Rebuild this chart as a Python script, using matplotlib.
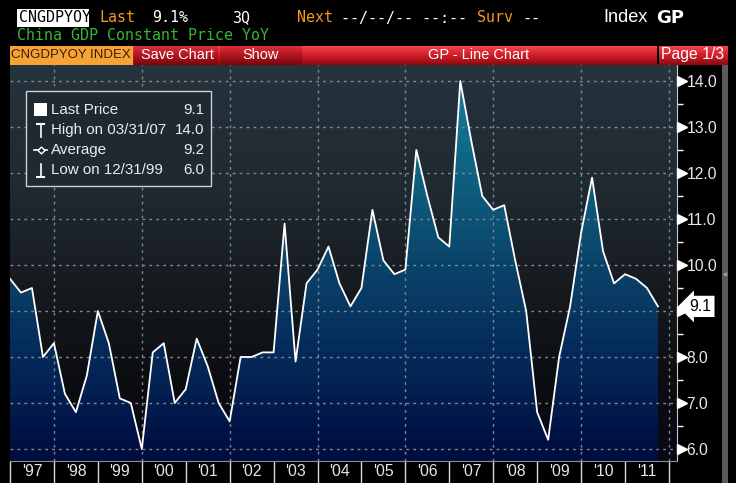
import numpy as np
import pandas as pd
import matplotlib
matplotlib.use('Agg')
import matplotlib.pyplot as plt
import matplotlib.transforms as mtrans
from matplotlib import font_manager
from matplotlib.patches import Rectangle

# China GDP constant price YoY (%), quarterly 4Q96 .. 3Q11
quarters = pd.period_range('1996Q4', '2011Q3', freq='Q')
gdp_yoy = [9.7,
           9.4, 9.5, 8.0, 8.3,
           7.2, 6.8, 7.6, 9.0,
           8.3, 7.1, 7.0, 6.0,
           8.1, 8.3, 7.0, 7.3,
           8.4, 7.8, 7.0, 6.6,
           8.0, 8.0, 8.1, 8.1,
           10.9, 7.9, 9.6, 9.9,
           10.4, 9.6, 9.1, 9.5,
           11.2, 10.1, 9.8, 9.9,
           12.5, 11.5, 10.6, 10.4,
           14.0, 12.7, 11.5, 11.2,
           11.3, 10.1, 9.0, 6.8,
           6.2, 8.0, 9.1, 10.7,
           11.9, 10.3, 9.6, 9.8,
           9.7, 9.5, 9.1]
year_ticks = list(range(1997, 2013))
year_labels = ["'97", "'98", "'99", "'00", "'01", "'02", "'03", "'04",
               "'05", "'06", "'07", "'08", "'09", "'10", "'11"]
grid_years = [1998, 2000, 2002, 2004, 2006, 2008, 2010, 2012]
y_ticks = [6.0, 7.0, 8.0, 9.0, 10.0, 11.0, 12.0, 13.0, 14.0]
y_minor = [6.5, 7.5, 8.5, 9.5, 10.5, 11.5, 12.5, 13.5]

x = np.array([q.year + q.quarter / 4.0 for q in quarters])
vals = np.array(gdp_yoy)
last = vals[-1]
i_hi = int(np.argmax(vals))
i_lo = int(np.argmin(vals))
hi_date = quarters[i_hi].end_time.strftime('%m/%d/%y')
lo_date = quarters[i_lo].end_time.strftime('%m/%d/%y')

names = {f.name for f in font_manager.fontManager.ttflist}
if 'Liberation Sans Narrow' in names:
    NARROW, K = 'Liberation Sans Narrow', 1.0
else:
    NARROW, K = 'Liberation Sans', 0.87
MONO = 'DejaVu Sans Mono'
plt.rcParams['font.family'] = [NARROW, 'DejaVu Sans']

W, H = 736, 483
fig = plt.figure(figsize=(W / 100, H / 100), dpi=100, facecolor='black')

# plot area in pixels: x 10..677, y 64..461
px0, px1, py0, py1 = 10, 677, 64, 461
ax = fig.add_axes([px0 / W, 1 - py1 / H, (px1 - px0) / W, (py1 - py0) / H])
ax.set_facecolor('black')
xlim = (1997.0, 1997.0 + (px1 - px0) / 43.93)
ylim = (6.0 - (py1 - 449) / 46.0, 14.0 + (81 - py0) / 46.0)


def bands(stops, n=36):
    t = (np.arange(n) + 0.5) / n
    pos = [s[0] for s in stops]
    cols = np.array([s[1] for s in stops]) / 255.0
    arr = np.stack([np.interp(t, pos, cols[:, c]) for c in range(3)], axis=-1)
    return arr[:, None, :]


bg = bands([(0.0, (38, 52, 62)), (0.35, (31, 40, 47)), (0.6, (20, 24, 28)),
            (0.8, (12, 13, 17)), (1.0, (8, 8, 20))])
fill = bands([(0.0, (26, 130, 160)), (0.25, (16, 100, 132)), (0.5, (10, 68, 106)),
              (0.75, (4, 40, 88)), (1.0, (0, 12, 62))])
ext = [xlim[0], xlim[1], ylim[0], ylim[1]]
ax.imshow(bg, extent=ext, aspect='auto', interpolation='nearest', zorder=0)
poly = ax.fill_between(x, vals, ylim[0], facecolor='none', edgecolor='none')
im = ax.imshow(fill, extent=ext, aspect='auto', interpolation='nearest', zorder=2)
im.set_clip_path(poly.get_paths()[0], transform=ax.transData)

for v in y_ticks:
    ax.axhline(v, color='#7d8893', lw=1, ls=(0, (2, 3)), zorder=3)
for g in grid_years:
    ax.axvline(g, color='#7d8893', lw=1, ls=(0, (2, 3)), zorder=3)

ax.plot(x, vals, color='white', lw=1.3, zorder=4)
ax.set_xlim(*xlim)
ax.set_ylim(*ylim)

for s in ['top', 'left']:
    ax.spines[s].set_visible(False)
ax.spines['right'].set_color('#c8c8c8')
ax.spines['bottom'].set_color('#909090')

ax.set_xticks(year_ticks)
ax.set_xticklabels([])
ax.tick_params(axis='x', which='major', length=16, width=1, color='#d8d8d8')
ax.set_xticks([y + 0.5 for y in year_ticks[:-1]], minor=True)
ax.set_xticklabels(year_labels, minor=True)
ax.tick_params(axis='x', which='minor', length=0, pad=2, labelsize=13 * K,
               labelcolor='#e6e6e6')

ax.yaxis.tick_right()
ax.set_yticks(y_ticks)
ax.set_yticklabels(['%.1f' % v for v in y_ticks])
ax.set_yticks(y_minor, minor=True)
ax.tick_params(axis='y', which='major', length=0, pad=7, labelsize=13 * K,
               labelcolor='#e6e6e6')
ax.tick_params(axis='y', which='minor', length=4, width=1, color='white')
tri = mtrans.offset_copy(mtrans.blended_transform_factory(ax.transAxes, ax.transData),
                         fig=fig, x=5, y=0, units='dots')
ax.plot([1] * len(y_ticks), y_ticks, ls='none', marker='>', ms=7.5, color='white',
        transform=tri, clip_on=False, zorder=5)

# last value tag, it sits over the 9.0 label as on the terminal
ax.annotate('%.1f' % last, xy=(1, last), xycoords=('axes fraction', 'data'),
            xytext=(9, 0), textcoords='offset points', ha='left', va='center',
            fontsize=13 * K, color='black', zorder=10, annotation_clip=False,
            bbox=dict(boxstyle='larrow,pad=0.2', fc='white', ec='none'))

# overlay in pixel coordinates for header, legend and frame bits
ov = fig.add_axes([0, 0, 1, 1], zorder=5)
ov.set_facecolor('none')
ov.axis('off')

white, orange, green = '#ffffff', '#f39a1e', '#33b833'
ov.add_patch(Rectangle((17, 9), 72, 18, fc='white', ec='none'))
ov.text(19, 18, 'CNGDPYOY', family=MONO, fontsize=10.8, color='black', va='center')
ov.text(99, 18, 'Last', family=MONO, fontsize=10.8, color=orange, va='center')
ov.text(152, 18, '%.1f%%' % last, family=MONO, fontsize=10.8, color=white, va='center')
ov.text(233, 18, '%dQ' % quarters[-1].quarter, family=MONO, fontsize=10.8,
        color=white, va='center')
ov.text(297, 18, 'Next', family=MONO, fontsize=10.8, color=orange, va='center')
ov.text(341, 18, '--/--/-- --:--', family=MONO, fontsize=10.8, color=white, va='center')
ov.text(477, 18, 'Surv', family=MONO, fontsize=10.8, color=orange, va='center')
ov.text(522, 18, '--', family=MONO, fontsize=10.8, color=white, va='center')
ov.text(603, 18, 'Index', fontsize=15 * K, color=white, va='center')
ov.text(656, 18, 'GP', family='DejaVu Sans', fontweight='bold', fontsize=13,
        color=white, va='center')
ov.text(17, 36, 'China GDP Constant Price YoY', family=MONO, fontsize=10.8,
        color=green, va='center')

red = bands([(0.0, (240, 70, 80)), (0.4, (215, 35, 45)), (1.0, (140, 8, 16))], n=19)
dred = bands([(0.0, (215, 50, 60)), (0.4, (185, 25, 35)), (1.0, (120, 5, 12))], n=19)
ov.imshow(red, extent=[133, 657, 65, 46], aspect='auto', interpolation='bilinear')
ov.imshow(dred, extent=[134, 218, 65, 46], aspect='auto', interpolation='bilinear')
ov.imshow(dred, extent=[220, 302, 65, 46], aspect='auto', interpolation='bilinear')
ov.imshow(red, extent=[659, 728, 65, 46], aspect='auto', interpolation='bilinear')
ov.add_patch(Rectangle((10, 46), 123, 19, fc='#f7a236', ec='none'))
ov.text(71, 55.5, 'CNGDPYOY INDEX', fontsize=11 * K, color='#3a1e00', ha='center', va='center')
ov.text(177, 55, 'Save Chart', fontsize=12 * K, color=white, ha='center', va='center')
ov.text(261, 55, 'Show', fontsize=12 * K, color=white, ha='center', va='center')
ov.text(479, 55, 'GP - Line Chart', fontsize=12 * K, color=white, ha='center', va='center')
ov.text(693, 55, 'Page 1/3', fontsize=13 * K, color=white, ha='center', va='center')

# scroll strip at the right
ov.add_patch(Rectangle((722, 65), 6, 418, fc='#5a5a5a', ec='none'))
ov.text(725, 275, '\u00ab', family='DejaVu Sans', fontsize=6, color='#dddddd',
        ha='center', va='center')

# legend box
ov.add_patch(Rectangle((26, 91), 185, 95, fc='#1e2931', ec='#cfcfcf', lw=1, zorder=6))
rows = [('Last Price', '%.1f' % last),
        ('High on %s' % hi_date, '%.1f' % vals[i_hi]),
        ('Average', '%.1f' % vals.mean()),
        ('Low on %s' % lo_date, '%.1f' % vals[i_lo])]
for k, (lab, val) in enumerate(rows):
    yy = 110 + k * 20
    ov.text(51, yy, lab, fontsize=12.5 * K, color='#ececec', va='center', zorder=7)
    ov.text(204, yy, val, fontsize=12.5 * K, color='#ececec', va='center', ha='right', zorder=7)
ov.add_patch(Rectangle((34, 103), 13, 13, fc='white', ec='none', zorder=7))
ov.plot([40.5, 40.5], [124, 137], color='white', lw=1.2, zorder=7)
ov.plot([37, 44], [124, 124], color='white', lw=1.5, zorder=7)
ov.plot([34, 47], [150, 150], color='white', lw=1.2, zorder=7)
ov.plot([40.5], [150], marker='D', ms=3.5, mfc='#1e2931', mec='white', mew=1, zorder=8)
ov.plot([40.5, 40.5], [164, 177], color='white', lw=1.2, zorder=7)
ov.plot([37, 44], [177, 177], color='white', lw=1.5, zorder=7)

ov.set_xlim(0, W)
ov.set_ylim(H, 0)

fig.savefig('out.png', dpi=100, facecolor='black')
